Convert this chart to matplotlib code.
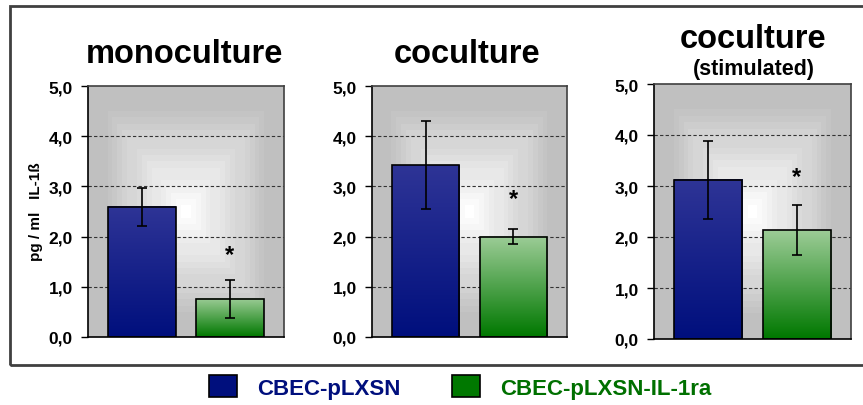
import matplotlib.pyplot as plt
import numpy as np
from matplotlib.colors import LinearSegmentedColormap
from matplotlib.patches import Rectangle, Patch

plt.rcParams['font.family'] = ['Liberation Sans', 'DejaVu Sans']
plt.rcParams['font.weight'] = 'bold'

# IL-1beta (pg/ml), mean and error per condition
groups = ['CBEC-pLXSN', 'CBEC-pLXSN-IL-1ra']
panels = ['monoculture', 'coculture', 'coculture']
subtitles = ['', '', '(stimulated)']
means_lxsn = [2.59, 3.42, 3.12]
errs_lxsn = [0.38, 0.88, 0.77]
means_il1ra = [0.76, 2.00, 2.13]
errs_il1ra = [0.38, 0.15, 0.49]
star_y = [1.65, 2.75, 3.18]
yticks = [0, 1, 2, 3, 4, 5]
ytick_labels = ['0,0', '1,0', '2,0', '3,0', '4,0', '5,0']

blue_cmap = LinearSegmentedColormap.from_list('b', ['#000f7d', '#2e3496'])
green_cmap = LinearSegmentedColormap.from_list('g', ['#007800', '#9ccc96'])
bg_cmap = LinearSegmentedColormap.from_list('bg', ['#ffffff', '#c0c0c0'])

W, H = 863, 406
fig = plt.figure(figsize=(W / 100, H / 100), dpi=100)

# axes boxes in pixels: left, top, right, bottom
boxes = [(88, 87, 284, 338), (372, 87, 567, 338), (654, 85, 851, 340)]


def box_gradient(n=40, steps=14):
    t = np.linspace(-1, 1, n)
    xx, yy = np.meshgrid(t, t)
    d = np.clip(np.maximum(np.abs(xx), np.abs(yy)) * 1.15, 0, 1)
    return np.round(d * steps) / steps


def fill_bar(ax, patch, cmap):
    x, y = patch.get_x(), patch.get_y()
    w, h = patch.get_width(), patch.get_height()
    grad = np.linspace(0, 1, 100).reshape(-1, 1)
    ax.imshow(grad, cmap=cmap, extent=(x, x + w, y, y + h), origin='lower',
              aspect='auto', zorder=2, interpolation='bilinear')


for i, (l, t, r, b) in enumerate(boxes):
    ax = fig.add_axes([l / W, (H - b) / H, (r - l) / W, (b - t) / H])
    ax.set_xlim(-0.614, 1.614)
    ax.set_ylim(0, 5)

    ax.imshow(box_gradient(), cmap=bg_cmap, extent=(-0.614, 1.614, 0, 5),
              aspect='auto', zorder=0, interpolation='nearest', vmin=0, vmax=1)

    bars = ax.bar([0, 1], [means_lxsn[i], means_il1ra[i]], width=0.77,
                  color='none', edgecolor='black', linewidth=1.2, zorder=3)
    fill_bar(ax, bars[0], blue_cmap)
    fill_bar(ax, bars[1], green_cmap)
    ax.errorbar([0, 1], [means_lxsn[i], means_il1ra[i]],
                yerr=[errs_lxsn[i], errs_il1ra[i]], fmt='none', ecolor='black',
                elinewidth=1.2, capsize=3.6, capthick=1.2, zorder=4)
    ax.text(1, star_y[i], '*', ha='center', va='center', fontsize=17,
            fontweight='bold', zorder=5)

    for v in yticks[1:-1]:
        ax.axhline(v, color='#333333', linestyle=(0, (3, 2)), linewidth=0.8,
                   zorder=1)

    ax.set_yticks(yticks)
    ax.set_yticklabels(ytick_labels, fontsize=12.5, fontweight='bold')
    ax.set_xticks([])
    ax.tick_params(axis='y', direction='out', length=5, width=1, pad=6)
    for side in ['top', 'right']:
        ax.spines[side].set_color('#404040')
        ax.spines[side].set_linewidth(1.2)
    for side in ['left', 'bottom']:
        ax.spines[side].set_linewidth(1.2)

    cx = (l + r) / 2
    if subtitles[i]:
        fig.text((cx + 1) / W, (H - 48) / H, panels[i], ha='center',
                 va='baseline', fontsize=23.5, fontweight='bold')
        fig.text((cx + 1.5) / W, (H - 75) / H, subtitles[i], ha='center',
                 va='baseline', fontsize=15.5, fontweight='bold')
    else:
        fig.text((cx - 2) / W, (H - 63) / H, panels[i], ha='center',
                 va='baseline', fontsize=23.5, fontweight='bold')

fig.text(36 / W, (H - 212) / H, 'pg / ml   IL-1ß', rotation=90, ha='center',
         va='center', fontsize=11, fontweight='bold')

# outer frame
fig.patches.append(Rectangle((10 / W, (H - 366) / H), 1.0, 359 / H,
                             transform=fig.transFigure, fill=False,
                             edgecolor='#404040', linewidth=2))

handles = [Patch(facecolor='#000f7d', edgecolor='black', linewidth=1.2),
           Patch(facecolor='#007800', edgecolor='black', linewidth=1.2)]
leg = fig.legend(handles, groups, loc='center', bbox_to_anchor=(0.533, 0.044),
                 ncol=2, frameon=False, handlelength=1.25,
                 handleheight=1.15, handletextpad=0.9, columnspacing=2.34,
                 prop={'weight': 'bold', 'size': 16})
leg.get_texts()[0].set_color('#000f7d')
leg.get_texts()[1].set_color('#007000')

fig.savefig('out.png', dpi=100)
